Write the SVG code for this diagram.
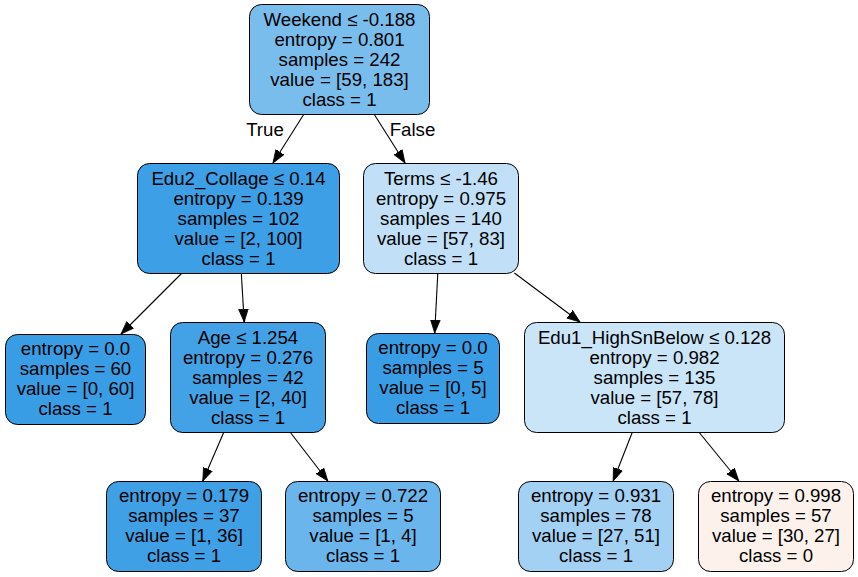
<svg xmlns="http://www.w3.org/2000/svg" width="858" height="577" viewBox="0 0 858 577">
<style>
.n rect{stroke:#000;stroke-width:1}
text{font-family:"Liberation Sans",Arial,sans-serif;font-size:18.67px;text-anchor:middle;fill:#000}
.e line{stroke:#000;stroke-width:1.1;marker-end:url(#a)}
</style>
<defs>
<marker id="a" markerUnits="userSpaceOnUse" markerWidth="14" markerHeight="11" refX="13" refY="4.8" orient="auto" viewBox="0 0 14 9.6"><path d="M0,0 L13,4.8 L0,9.6 z" fill="#000" stroke="#000" stroke-width="0.8"/></marker>
</defs>
<rect width="858" height="577" fill="#fff"/>
<g id="edges" class="e">
<line x1="304" y1="114" x2="273" y2="163"/>
<line x1="374" y1="114" x2="405" y2="163"/>
<line x1="182" y1="273" x2="121" y2="334"/>
<line x1="241.3" y1="273" x2="244.2" y2="322"/>
<line x1="437.8" y1="273" x2="434.7" y2="333"/>
<line x1="514.4" y1="273" x2="580" y2="322"/>
<line x1="223.9" y1="432" x2="202.8" y2="481"/>
<line x1="290" y1="432" x2="327.8" y2="481"/>
<line x1="632.4" y1="432" x2="613.2" y2="481"/>
<line x1="698.8" y1="432" x2="738.8" y2="481"/>
<text x="265" y="136">True</text>
<text x="412.5" y="136">False</text>
</g>
<g id="n0" class="n"><rect x="249.5" y="4.5" width="180" height="110" rx="12" fill="#79bded"/>
<text x="339.5" y="26">Weekend ≤ -0.188</text><text x="339.5" y="46">entropy = 0.801</text><text x="339.5" y="66">samples = 242</text><text x="339.5" y="86">value = [59, 183]</text><text x="339.5" y="106">class = 1</text></g>
<g id="n1" class="n"><rect x="137.5" y="163.5" width="202" height="110" rx="12" fill="#3d9fe5"/>
<text x="238.5" y="185">Edu2_Collage ≤ 0.14</text><text x="238.5" y="205">entropy = 0.139</text><text x="238.5" y="225">samples = 102</text><text x="238.5" y="245">value = [2, 100]</text><text x="238.5" y="265">class = 1</text></g>
<g id="n2" class="n"><rect x="5.5" y="334.5" width="140" height="90" rx="12" fill="#399de5"/>
<text x="75.5" y="355">entropy = 0.0</text><text x="75.5" y="375">samples = 60</text><text x="75.5" y="395">value = [0, 60]</text><text x="75.5" y="415">class = 1</text></g>
<g id="n3" class="n"><rect x="170.5" y="322.5" width="155" height="110" rx="12" fill="#43a2e6"/>
<text x="248" y="344">Age ≤ 1.254</text><text x="248" y="364">entropy = 0.276</text><text x="248" y="384">samples = 42</text><text x="248" y="404">value = [2, 40]</text><text x="248" y="424">class = 1</text></g>
<g id="n4" class="n"><rect x="106.5" y="481.5" width="155" height="90" rx="12" fill="#3fa0e6"/>
<text x="184" y="502">entropy = 0.179</text><text x="184" y="522">samples = 37</text><text x="184" y="542">value = [1, 36]</text><text x="184" y="562">class = 1</text></g>
<g id="n5" class="n"><rect x="285.5" y="481.5" width="155" height="90" rx="12" fill="#6ab6ec"/>
<text x="363" y="502">entropy = 0.722</text><text x="363" y="522">samples = 5</text><text x="363" y="542">value = [1, 4]</text><text x="363" y="562">class = 1</text></g>
<g id="n6" class="n"><rect x="363.5" y="163.5" width="155" height="110" rx="12" fill="#c1e0f7"/>
<text x="441" y="185">Terms ≤ -1.46</text><text x="441" y="205">entropy = 0.975</text><text x="441" y="225">samples = 140</text><text x="441" y="245">value = [57, 83]</text><text x="441" y="265">class = 1</text></g>
<g id="n7" class="n"><rect x="366.5" y="333.5" width="133" height="90" rx="12" fill="#399de5"/>
<text x="433" y="354">entropy = 0.0</text><text x="433" y="374">samples = 5</text><text x="433" y="394">value = [0, 5]</text><text x="433" y="414">class = 1</text></g>
<g id="n8" class="n"><rect x="524.5" y="322.5" width="260" height="110" rx="12" fill="#cae5f8"/>
<text x="654.5" y="344">Edu1_HighSnBelow ≤ 0.128</text><text x="654.5" y="364">entropy = 0.982</text><text x="654.5" y="384">samples = 135</text><text x="654.5" y="404">value = [57, 78]</text><text x="654.5" y="424">class = 1</text></g>
<g id="n9" class="n"><rect x="518.5" y="481.5" width="155" height="90" rx="12" fill="#a2d1f3"/>
<text x="596" y="502">entropy = 0.931</text><text x="596" y="522">samples = 78</text><text x="596" y="542">value = [27, 51]</text><text x="596" y="562">class = 1</text></g>
<g id="n10" class="n"><rect x="698.5" y="481.5" width="155" height="90" rx="12" fill="#fcf2eb"/>
<text x="776" y="502">entropy = 0.998</text><text x="776" y="522">samples = 57</text><text x="776" y="542">value = [30, 27]</text><text x="776" y="562">class = 0</text></g>
</svg>
